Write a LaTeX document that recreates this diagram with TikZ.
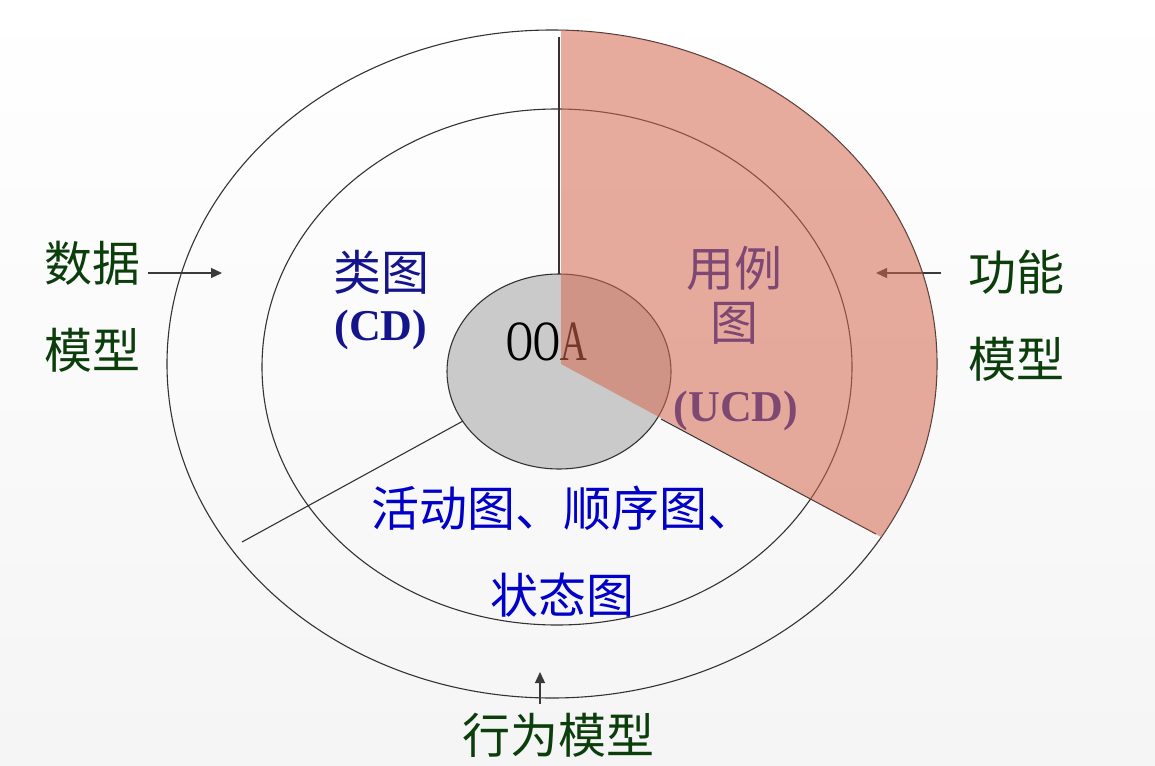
\documentclass[tikz,border=0pt]{standalone}
\usepackage{fontspec}
\setmainfont{Liberation Serif}
\newfontfamily\cjk{Noto Sans CJK SC}
\usetikzlibrary{arrows.meta,positioning}

\definecolor{rim}{HTML}{333333}
\definecolor{arrowgray}{HTML}{3A3A3A}
\definecolor{core}{HTML}{CACACA}
\definecolor{usecase}{RGB}{213,104,79}
\definecolor{navyblue}{RGB}{20,20,140}
\definecolor{diagblue}{RGB}{0,0,200}
\definecolor{modelgreen}{RGB}{12,62,12}
\definecolor{ucdpurple}{RGB}{127,72,115}

\begin{document}
\begin{tikzpicture}[x=1pt, y=-1pt,
    ring/.style={draw=rim, line width=1.1pt},
    divider/.style={draw=rim, line width=1.1pt},
    cjklabel/.style={inner sep=0pt, font=\cjk\fontsize{48}{52}\selectfont},
    modellabel/.style={cjklabel, text=modelgreen},
    classlabel/.style={cjklabel, text=navyblue},
    dynlabel/.style={cjklabel, text=diagblue},
    ucdlabel/.style={cjklabel, text=ucdpurple},
    codelabel/.style={inner sep=0pt, font=\bfseries\fontsize{44}{48}\selectfont},
    arrow/.style={-{Triangle[length=11pt,width=10pt]}, line width=1.3pt, draw=arrowgray},
    node distance=87pt and 0pt, on grid
]
% background
\shade[top color=white, bottom color=black!4] (0,0) rectangle (1155,765);

% rings
\draw[ring] (552,364) ellipse [x radius=385, y radius=334];
\draw[ring] (557,367) ellipse [x radius=295, y radius=258];
\draw[ring, fill=core] (559,371.5) ellipse [x radius=112, y radius=97.5];

% sector dividers
\draw[divider] (559,37) -- (559,274);
\draw[divider] (661,419) -- (876,534);
\draw[divider] (463,421) -- (242,542);

\node[inner sep=0pt, font=\fontsize{57}{60}\selectfont] (ooa) at (547,342) {\scalebox{0.65}[1]{OOA}};

% function model arrow sits under the tint
\coordinate (funcTail) at (941,273);
\coordinate (funcHead) at (876,273);
\draw[arrow] (funcTail) -- (funcHead);

% use case sector
\begin{scope}
  \clip (561,364) -- (561,0) -- (1155,0) -- (1155,685) -- cycle;
  \fill[usecase, opacity=0.55] (552,364) ellipse [x radius=385, y radius=334];
\end{scope}

% diagram names
\node[classlabel] (cls) at (381,272) {类图};
\node[codelabel, text=navyblue] (clsabbr) at (381,330) {(CD)};
\node[ucdlabel] (uc) at (734,268) {用例};
\node[ucdlabel, below=55pt of uc] (ucimg) {图};
\node[codelabel, text=ucdpurple] (ucabbr) at (736,411) {(UCD)};
\node[dynlabel] (dyn) at (563,508) {活动图、顺序图、};
\node[dynlabel] (state) at (562,595) {状态图};

% model names
\node[modellabel] (data) at (92,263) {数据};
\node[modellabel, below=of data] (datamodel) {模型};
\node[modellabel] (func) at (1016,272) {功能};
\node[modellabel, below=of func] (funcmodel) {模型};
\node[modellabel] (behav) at (558,735) {行为模型};

\coordinate (dataTail) at (148,273);
\coordinate (dataHead) at (222,273);
\draw[arrow] (dataTail) -- (dataHead);
\coordinate (behavTail) at (540,704);
\coordinate (behavHead) at (540,672);
\draw[arrow] (behavTail) -- (behavHead);
\end{tikzpicture}
\end{document}
